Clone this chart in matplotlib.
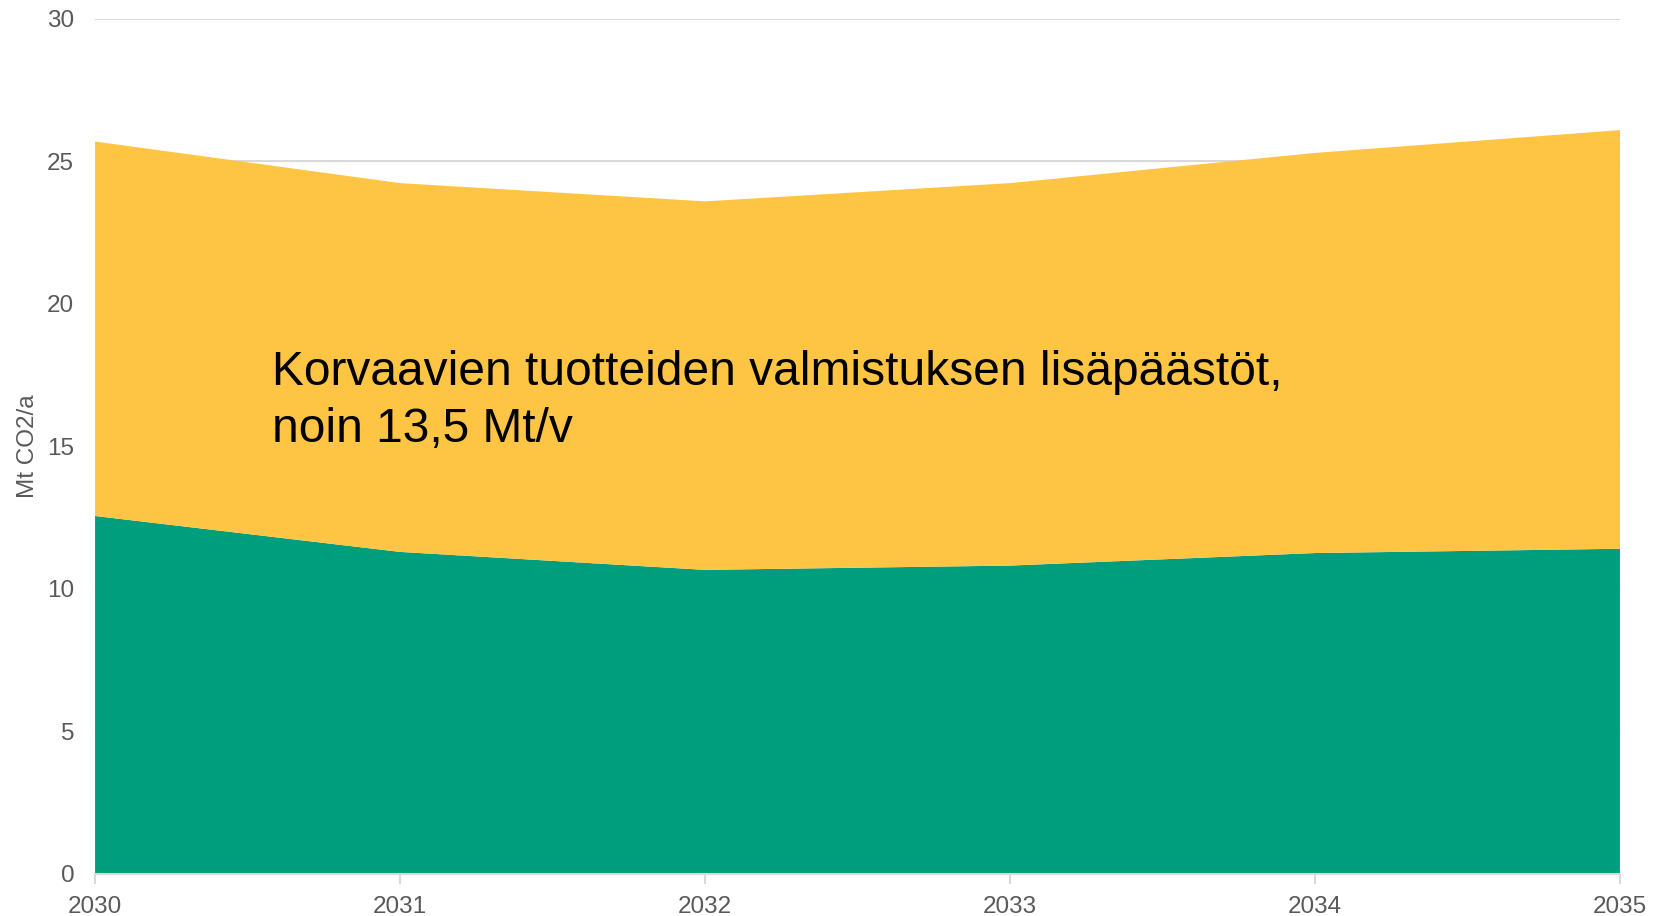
import matplotlib.pyplot as plt

plt.rcParams['font.family'] = ['Liberation Sans', 'DejaVu Sans']

# data
years = [2030, 2031, 2032, 2033, 2034, 2035]
base = [12.56, 11.30, 10.67, 10.82, 11.26, 11.41]
extra = [13.14, 12.94, 12.93, 13.42, 14.04, 14.69]
yticks = [0, 5, 10, 15, 20, 25, 30]

green = '#009E7D'
yellow = '#FDC543'
grey = '#595959'
light = '#D9D9D9'

fig = plt.figure(figsize=(16.62, 9.16), dpi=100)
ax = fig.add_axes([0.0572, 0.0459, 0.9175, 0.9334])

ax.stackplot(years, base, extra, colors=[green, yellow], linewidth=0)

ax.set_xlim(years[0], years[-1])
ax.set_ylim(0, 30)
ax.set_xticks(years)
ax.set_yticks(yticks)
ax.grid(axis='y', color=light, linewidth=1.5)
ax.set_axisbelow(True)

for s in ['top', 'right', 'left']:
    ax.spines[s].set_visible(False)
ax.spines['bottom'].set_color(light)
ax.spines['bottom'].set_linewidth(1.5)

ax.tick_params(axis='x', colors=light, length=7, width=1.5, labelcolor=grey,
               labelsize=17.5, pad=9)
ax.tick_params(axis='y', length=0, labelcolor=grey, labelsize=17.5, pad=15)

ax.set_ylabel('Mt CO2/a', color=grey, fontsize=17.5, labelpad=6)

ax.text(2030.58, 18.4, 'Korvaavien tuotteiden valmistuksen lisäpäästöt,\nnoin 13,5 Mt/v',
        fontsize=34.5, color='black', va='top', ha='left', linespacing=1.35)

fig.savefig('out.png', dpi=100)
